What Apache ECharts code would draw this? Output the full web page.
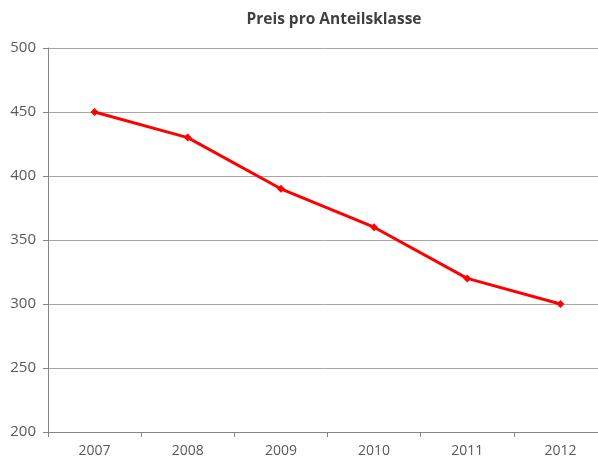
<!DOCTYPE html>
<html>
<head>
<meta charset="utf-8">
<script src="https://cdn.jsdelivr.net/npm/echarts@6/dist/echarts.min.js"></script>
<style>
  html, body { margin: 0; padding: 0; background: #fff; }
  #chart { width: 598px; height: 457px; }
</style>
</head>
<body>
<div id="chart"></div>
<script>
// Daten
var years = ['2007', '2008', '2009', '2010', '2011', '2012'];
var prices = [450, 430, 390, 360, 320, 300];

var myChart = echarts.init(document.getElementById('chart'));
myChart.setOption({
  animation: false,
  title: {
    text: 'Preis pro Anteilsklasse',
    left: 329,
    textAlign: 'center',
    top: 7,
    textStyle: {
      fontFamily: 'Open Sans',
      fontWeight: 'bold',
      fontSize: 15.5,
      color: '#404040'
    }
  },
  grid: {
    left: 48,
    top: 48,
    right: -9,
    height: 384,
    outerBoundsMode: 'none',
    containLabel: false
  },
  xAxis: {
    type: 'category',
    data: years,
    boundaryGap: true,
    axisLine: { lineStyle: { color: '#868686', width: 1 } },
    axisTick: { show: true, length: 5, lineStyle: { color: '#868686' } },
    axisLabel: {
      color: '#595959',
      fontFamily: 'Open Sans',
      fontSize: 14,
      margin: 12
    }
  },
  yAxis: {
    type: 'value',
    min: 200,
    max: 500,
    interval: 50,
    axisLine: { show: true, lineStyle: { color: '#868686', width: 1 } },
    axisTick: { show: true, length: 5, lineStyle: { color: '#868686' } },
    axisLabel: {
      color: '#595959',
      fontFamily: 'Open Sans',
      fontSize: 15,
      margin: 12
    },
    splitLine: { lineStyle: { color: '#a6a6a6', width: 1 } }
  },
  series: [
    {
      type: 'line',
      data: prices,
      symbol: 'diamond',
      symbolSize: 8,
      lineStyle: { color: '#ff0000', width: 3 },
      itemStyle: { color: '#ff0000' }
    }
  ]
});
</script>
</body>
</html>
